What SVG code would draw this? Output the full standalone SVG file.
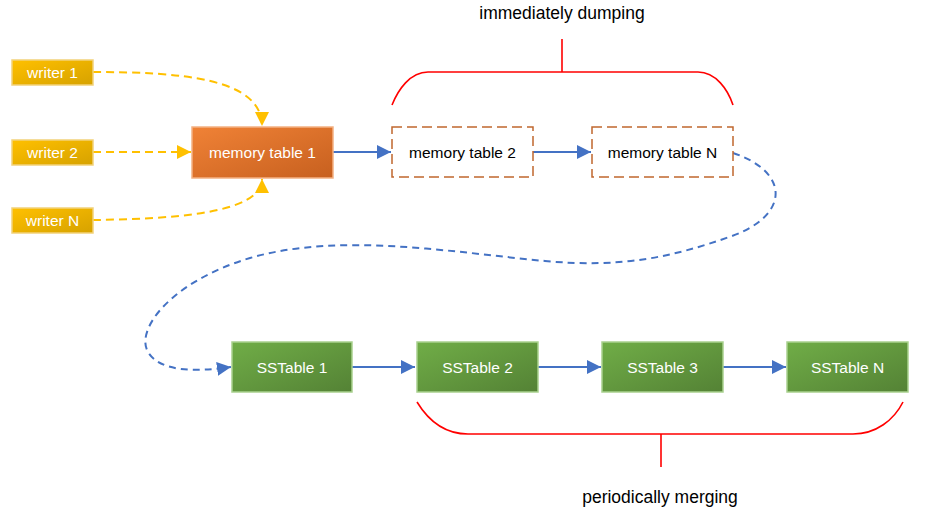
<svg xmlns="http://www.w3.org/2000/svg" width="925" height="517" viewBox="0 0 925 517">
<defs>
<linearGradient id="gY" x1="0" y1="0" x2="1" y2="1"><stop offset="0" stop-color="#FFC000"/><stop offset="1" stop-color="#D6A200"/></linearGradient>
<linearGradient id="gO" x1="0" y1="0" x2="1" y2="1"><stop offset="0" stop-color="#F08236"/><stop offset="1" stop-color="#C7601F"/></linearGradient>
<linearGradient id="gG" x1="0" y1="0" x2="1" y2="1"><stop offset="0" stop-color="#70AD47"/><stop offset="1" stop-color="#548235"/></linearGradient>
<marker id="aB" viewBox="0 0 10 10" refX="10" refY="5" markerWidth="7" markerHeight="7" orient="auto" markerUnits="strokeWidth"><path d="M0,0 L10,5 L0,10 z" fill="#4472C4"/></marker>
<marker id="aY" viewBox="0 0 10 10" refX="10" refY="5" markerWidth="7" markerHeight="7" orient="auto" markerUnits="strokeWidth"><path d="M0,0 L10,5 L0,10 z" fill="#FFC000"/></marker>
</defs>
<style>
.t{font-family:"Liberation Sans",Arial,sans-serif;font-size:15.5px;text-anchor:middle;dominant-baseline:central}
.w{fill:#fff}
.k{fill:#000}
.lbl{font-family:"Liberation Sans",Arial,sans-serif;font-size:17.5px;text-anchor:middle;fill:#000}
.yw{fill:url(#gY);stroke:#F2D27A;stroke-width:1.5}
.or{fill:url(#gO);stroke:#F4B183;stroke-width:1.5}
.gr{fill:url(#gG);stroke:#A9D18E;stroke-width:1.5}
.ds{fill:#fff;stroke:#C0672E;stroke-width:1.5;stroke-dasharray:10 5}
.cb{fill:none;stroke:#4472C4;stroke-width:2;marker-end:url(#aB)}
.cbd{fill:none;stroke:#4472C4;stroke-width:2;stroke-dasharray:7 5;marker-end:url(#aB)}
.cy{fill:none;stroke:#FFC000;stroke-width:2;stroke-dasharray:8 5;marker-end:url(#aY)}
.br{fill:none;stroke:#FF0000;stroke-width:1.6}
</style>
<g id="connectors">
<path class="cy" d="M93,72 C180,72 262,78 262,126"/>
<path class="cy" d="M93,152 L191,152"/>
<path class="cy" d="M93,220 C170,219 262,214 262,179"/>
<path class="cb" d="M333,152 L391,152"/>
<path class="cb" d="M533,152 L591,152"/>
<path class="cbd" d="M733,153 C790,172 790,215 732,236 C670,258 620,268 545,261 C450,252 340,232 250,258 C170,282 135,330 148,352 C160,372 195,372 231,367"/>
<path class="cb" d="M352,367 L415,367"/>
<path class="cb" d="M538,367 L601,367"/>
<path class="cb" d="M723,367 L786,367"/>
</g>
<g id="brace-top">
<path class="br" d="M392,105 C398,90 410,72 428,72 L698,72 C716,72 728,90 733,105"/>
<path class="br" d="M562,72 L562,39"/>
<text class="lbl" x="562" y="19">immediately dumping</text>
</g>
<g id="brace-bottom">
<path class="br" d="M417,402 C428,420 445,434 468,434 L853,434 C876,434 894,420 903,402"/>
<path class="br" d="M661,434 L661,467"/>
<text class="lbl" x="660" y="503">periodically merging</text>
</g>
<g id="writer1"><rect class="yw" x="12" y="60" width="81" height="25"/><text class="t w" x="52.5" y="72.5">writer 1</text></g>
<g id="writer2"><rect class="yw" x="12" y="140" width="81" height="25"/><text class="t w" x="52.5" y="152.5">writer 2</text></g>
<g id="writerN"><rect class="yw" x="12" y="208" width="81" height="25"/><text class="t w" x="52.5" y="220.5">writer N</text></g>
<g id="memtable1"><rect class="or" x="192" y="127" width="141" height="51"/><text class="t w" x="262.5" y="152.5">memory table 1</text></g>
<g id="memtable2"><rect class="ds" x="392" y="127" width="141" height="50"/><text class="t k" x="462.5" y="152.5">memory table 2</text></g>
<g id="memtableN"><rect class="ds" x="592" y="127" width="141" height="50"/><text class="t k" x="662.5" y="152.5">memory table N</text></g>
<g id="sstable1"><rect class="gr" x="232" y="342" width="120" height="50"/><text class="t w" x="292" y="367">SSTable 1</text></g>
<g id="sstable2"><rect class="gr" x="417" y="342" width="121" height="50"/><text class="t w" x="477.5" y="367">SSTable 2</text></g>
<g id="sstable3"><rect class="gr" x="602" y="342" width="121" height="50"/><text class="t w" x="662.5" y="367">SSTable 3</text></g>
<g id="sstableN"><rect class="gr" x="787" y="342" width="121" height="50"/><text class="t w" x="847.5" y="367">SSTable N</text></g>
</svg>
